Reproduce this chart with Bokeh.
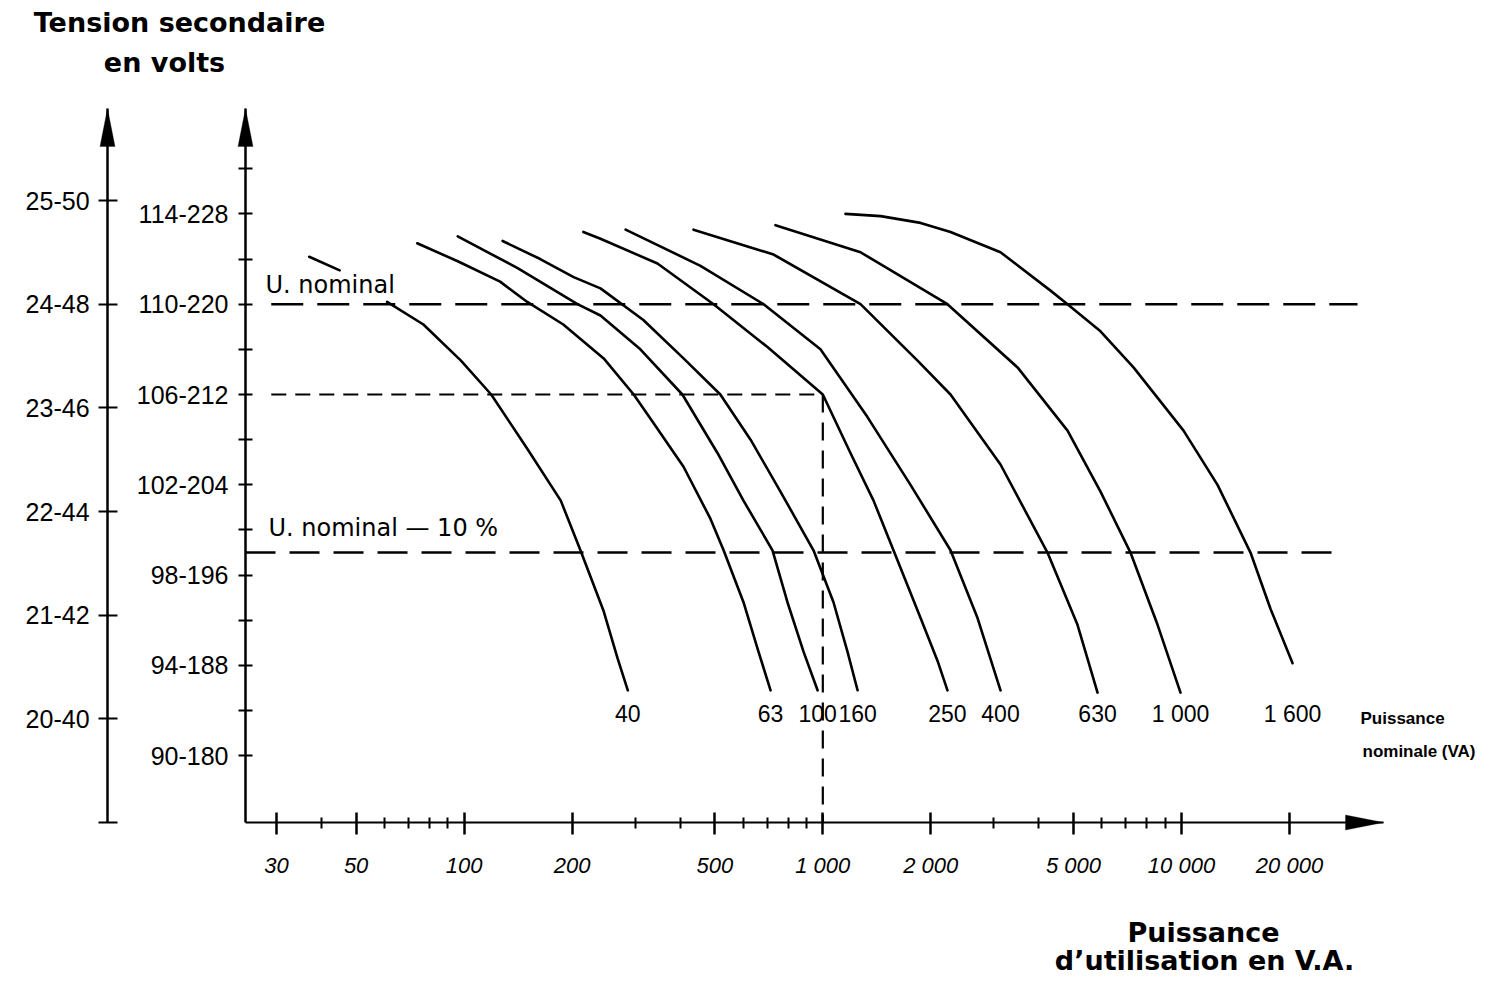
import numpy as np
from bokeh.plotting import figure
from bokeh.models import Range1d, LinearAxis, FixedTicker, Label, PolyAnnotation
from bokeh.embed import file_html
from bokeh.resources import INLINE
from bokeh.core.properties import value

NAN = float("nan")

# ---------------- data ----------------
# nominal power of each transformer curve (VA)
RATINGS = ["40", "63", "100", "160", "250", "400", "630", "1 000", "1 600"]

# power in use (VA) and secondary voltage (V, 110 V scale) along each curve
P_40 = [37, 45, NAN, 61, 77, 98, 119, 150, 186, 211, 245, 268, 286]
V_40 = [112.1, 111.5, NAN, 110.1, 109.1, 107.5, 106.0, 103.6, 101.3, 99.1, 96.4, 94.3, 92.9]

P_63 = [74, 96, 126, 150, 189, 245, 297, 335, 409, 486, 529, 601, 662, 715]
V_63 = [112.7, 111.9, 111.0, 110.1, 109.1, 107.6, 106.0, 104.8, 102.8, 100.5, 99.1, 96.8, 94.6, 92.9]

P_100 = [96, 141, 207, 240, 310, 406, 509, 601, 724, 797, 884, 967]
V_100 = [113.0, 111.6, 110.0, 109.5, 108.0, 106.0, 103.4, 101.3, 99.1, 96.8, 94.6, 92.9]

P_160 = [128, 163, 202, 240, 316, 409, 518, 629, 762, 942, 1071, 1172, 1250]
V_160 = [112.8, 112.0, 111.2, 110.7, 109.3, 107.6, 106.0, 104.0, 101.7, 99.1, 96.8, 94.6, 92.9]

P_250 = [215, 240, 346, 496, 701, 1000, 1195, 1385, 1574, 1873, 2089, 2226]
V_250 = [113.2, 112.9, 111.8, 110.0, 108.1, 106.0, 103.4, 101.3, 99.1, 96.1, 94.2, 92.9]

P_400 = [282, 456, 684, 985, 1332, 1756, 2270, 2700, 3129]
V_400 = [113.3, 111.7, 110.0, 108.0, 105.0, 102.0, 99.1, 96.1, 92.9]

P_630 = [436, 729, 1274, 1837, 2270, 3129, 4230, 5129, 5833]
V_630 = [113.3, 112.2, 110.0, 107.5, 106.0, 102.9, 99.0, 95.8, 92.8]

P_1000 = [738, 1274, 2226, 3490, 4811, 5945, 7207, 8575, 9936]
V_1000 = [113.5, 112.3, 110.0, 107.2, 104.4, 101.7, 99.0, 95.8, 92.8]

P_1600 = [1157, 1449, 1873, 2270, 3129, 4313, 4811, 5945, 7348, 10130, 12600, 15570, 17710, 20400]
V_1600 = [114.0, 113.9, 113.6, 113.2, 112.3, 110.6, 110.0, 108.8, 107.2, 104.4, 102.0, 99.0, 96.5, 94.1]

CURVES_P = [P_40, P_63, P_100, P_160, P_250, P_400, P_630, P_1000, P_1600]
CURVES_V = [V_40, V_63, V_100, V_160, V_250, V_400, V_630, V_1000, V_1600]

# axis ticks and their labels
X_TICKS = [30, 50, 100, 200, 500, 1000, 2000, 5000, 10000, 20000]
X_TICK_LABELS = ["30", "50", "100", "200", "500", "1 000", "2 000", "5 000", "10 000", "20 000"]
X_MINOR_TICKS = [40, 60, 70, 80, 90, 300, 400, 600, 700, 800, 900,
                 3000, 4000, 6000, 7000, 8000, 9000]

V_TICKS = [90, 94, 98, 102, 106, 110, 114]
V_TICK_LABELS = ["90-180", "94-188", "98-196", "102-204", "106-212", "110-220", "114-228"]
V_MINOR_TICKS = [92, 96, 100, 104, 108, 112, 116]

V24_TICKS = [19, 20, 21, 22, 23, 24, 25]
V24_TICK_LABELS = ["", "20-40", "21-42", "22-44", "23-46", "24-48", "25-50"]

# reference levels / worked example
U_NOMINAL = 110
U_MINUS_10 = 99
EXAMPLE_P = 1000
EXAMPLE_V = 106

# ---------------- layout ----------------
W, H = 1487, 977
X_START, X_END = 5.100, 71290          # whole canvas width
Y_START, Y_END = 80.18, 123.45         # whole canvas height (110 V scale)
Y24_START, Y24_END = 17.504, 26.931    # whole canvas height (24 V scale)

AXIS_X = 24.58            # power where the 110 V axis stands
AXIS24_X = 10.14          # power where the 24 V axis stands
AXIS_V = 87.04            # voltage where the power axis stands
X_AXIS_END = 36580        # end of the power axis (arrow tip)
V_AXIS_END = 118.67       # top of the 110 V axis (arrow tip)
V24_AXIS_START, V24_AXIS_END = 19.0, 25.889

DASH_X0 = 29              # where the dashed guides start
NOM_X1 = 30950            # end of "U. nominal" guide
MIN_X1 = 28660            # end of "U. nominal - 10 %" guide
LABEL_V = 91.87           # level of the rating labels
FONT = "Liberation Sans"
TITLE_FONT = "DejaVu Sans"

p = figure(width=W, height=H, x_axis_type="log",
           x_range=Range1d(X_START, X_END), y_range=Range1d(Y_START, Y_END),
           output_backend="svg", toolbar_location=None,
           min_border_left=0, min_border_top=0, min_border_right=0,
           min_border_bottom=0)
p.outline_line_color = None
p.xgrid.visible = False
p.ygrid.visible = False
p.background_fill_color = "white"
p.border_fill_color = "white"

# x axis
xa = p.xaxis[0]
xa.fixed_location = AXIS_V
xa.bounds = (AXIS_X, X_AXIS_END)
xa.ticker = FixedTicker(ticks=X_TICKS, minor_ticks=X_MINOR_TICKS)
xa.major_label_overrides = {t: l for t, l in zip(X_TICKS, X_TICK_LABELS)}
xa.major_label_text_font = FONT
xa.major_label_text_font_style = "italic"
xa.major_label_text_font_size = "22px"
xa.major_label_text_color = "black"
xa.major_label_standoff = 18
xa.axis_line_width = 2
xa.axis_line_color = "black"
xa.major_tick_in = 10
xa.major_tick_out = 12
xa.major_tick_line_width = 2.5
xa.minor_tick_in = 5
xa.minor_tick_out = 6
xa.minor_tick_line_width = 2

# inner y axis (110 V / 220 V)
ya = p.yaxis[0]
ya.fixed_location = AXIS_X
ya.bounds = (AXIS_V, V_AXIS_END)
ya.ticker = FixedTicker(ticks=V_TICKS, minor_ticks=V_MINOR_TICKS)
ya.major_label_overrides = {t: l for t, l in zip(V_TICKS, V_TICK_LABELS)}
ya.major_label_text_font = FONT
ya.major_label_text_font_size = "25px"
ya.major_label_text_color = "black"
ya.major_label_standoff = 10
ya.axis_line_width = 2.5
ya.axis_line_color = "black"
ya.major_tick_in = 7
ya.major_tick_out = 7
ya.major_tick_line_width = 2
ya.minor_tick_in = 7
ya.minor_tick_out = 7
ya.minor_tick_line_width = 2

# outer y axis (24 V / 48 V)
p.extra_y_ranges = {"v24": Range1d(Y24_START, Y24_END)}
oa = LinearAxis(y_range_name="v24", fixed_location=AXIS24_X,
                bounds=(V24_AXIS_START, V24_AXIS_END))
oa.ticker = FixedTicker(ticks=V24_TICKS)
oa.major_label_overrides = {t: l for t, l in zip(V24_TICKS, V24_TICK_LABELS)}
oa.major_label_text_font = FONT
oa.major_label_text_font_size = "25px"
oa.major_label_text_color = "black"
oa.major_label_standoff = 9
oa.axis_line_width = 2.5
oa.axis_line_color = "black"
oa.major_tick_in = 10
oa.major_tick_out = 9
oa.major_tick_line_width = 2
oa.minor_tick_line_color = None
p.add_layout(oa, "left")

# dashed guides
p.line([DASH_X0, NOM_X1], [U_NOMINAL, U_NOMINAL], line_color="black",
       line_width=2.5, line_dash="32 14")
p.line([AXIS_X, MIN_X1], [U_MINUS_10, U_MINUS_10], line_color="black",
       line_width=2.5, line_dash="30 14")
p.line([DASH_X0, EXAMPLE_P], [EXAMPLE_V, EXAMPLE_V], line_color="black",
       line_width=2.2, line_dash="15 9")
p.line([EXAMPLE_P, EXAMPLE_P], [EXAMPLE_V, AXIS_V], line_color="black",
       line_width=2.2, line_dash="18 10")

# curves
for px_, vx_ in zip(CURVES_P, CURVES_V):
    p.line(np.array(px_, dtype=float), np.array(vx_, dtype=float), line_color="black",
           line_width=2.6, line_join="round", line_cap="round")

# rating labels below curve ends
ends = [[v for v in c if v == v][-1] for c in CURVES_P]
p.text(x=ends, y=[LABEL_V] * len(ends), text=RATINGS, text_align="center",
       text_baseline="middle", text_font=value(FONT), text_font_size="23px",
       text_color="black")

# axis arrow heads (screen units, origin at bottom-left)
for xs, ys in [([237.5, 245, 252.5], [831, 869, 831]),
               ([99.5, 107, 114.5], [831, 869, 831]),
               ([1345, 1383, 1345], [162.5, 155, 147.5])]:
    p.add_layout(PolyAnnotation(xs=xs, ys=ys, xs_units="screen", ys_units="screen",
                                fill_color="black", fill_alpha=1.0,
                                line_color="black", line_width=1))

def lab(text, x, y, font, size, style="normal", align="left"):
    p.add_layout(Label(x=x, y=y, x_units="screen", y_units="screen", text=text,
                       text_font=font, text_font_size=size, text_font_style=style,
                       text_align=align, text_baseline="alphabetic", text_color="black"))

lab("Tension secondaire", 179, 955, TITLE_FONT, "27px", "bold", "center")
lab("en volts", 164, 915, TITLE_FONT, "27px", "bold", "center")
lab("Puissance", 1203, 45, TITLE_FONT, "27px", "bold", "center")
lab("d\u2019utilisation en V.A.", 1204, 17, TITLE_FONT, "27px", "bold", "center")
lab("Puissance", 1360, 259, FONT, "17px", "bold")
lab("nominale (VA)", 1362, 226, FONT, "17px", "bold")
lab("U. nominal", 265, 693, TITLE_FONT, "24px")
lab("U. nominal \u2014 10 %", 268, 450, TITLE_FONT, "24px")

open("out.html", "w").write(file_html(p, INLINE))
